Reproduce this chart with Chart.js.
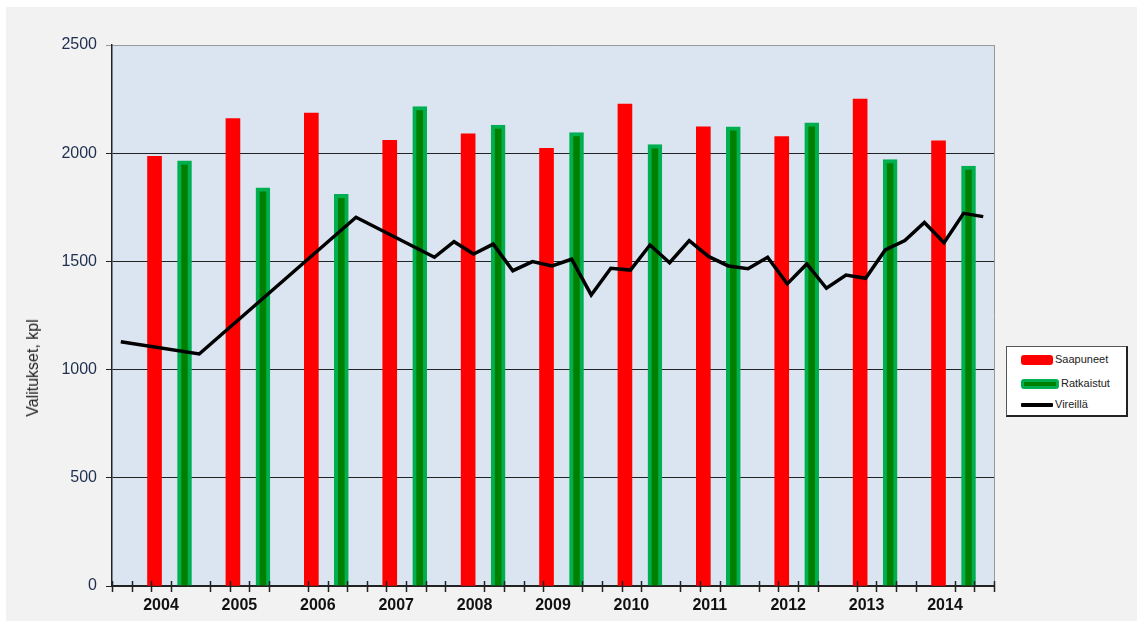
<!DOCTYPE html>
<html lang="fi">
<head>
  <meta charset="UTF-8">
  <title>Valitukset</title>
  <script src="https://cdn.jsdelivr.net/npm/chart.js"></script>
  <style>
    body { margin: 0; background: #ffffff; font-family: "Liberation Sans", Arial, sans-serif; }
    #panel { position: absolute; left: 6px; top: 7px; width: 1131px; height: 614px; background: #f2f2f2; }
    #chart { position: absolute; left: 0; top: 0; }
    #ytitle { position: absolute; left: 33px; top: 368px; transform: translate(-50%, -50%) rotate(-90deg);
              font-size: 16px; color: #222; white-space: nowrap; }
    #legend { position: absolute; left: 1006px; top: 346px; width: 119px; height: 68px; background: #fff;
              border: 1px solid #555; border-right: 2px solid #222; border-bottom: 2px solid #222; }
    .item { position: absolute; left: 14px; height: 14px; font-size: 11px; color: #222; line-height: 14px; }
    .sw { display: inline-block; width: 32px; vertical-align: middle; border-radius: 3px; margin-right: 2px; }
  </style>
</head>
<body>
  <div id="panel"></div>
  <canvas id="chart" width="1137" height="621"></canvas>
  <div id="ytitle">Valitukset, kpl</div>
  <div id="legend"></div>

  <script>
    // vuodet ja pylväät
    const years = ['2004', '2005', '2006', '2007', '2008', '2009', '2010', '2011', '2012', '2013', '2014'];
    const saapuneet = [1985, 2160, 2185, 2060, 2090, 2022, 2227, 2122, 2077, 2250, 2057];
    const ratkaistut = [1965, 1840, 1810, 2215, 2130, 2095, 2040, 2122, 2140, 1970, 1940];

    // vireillä (neljännesvuosittain, vuosineljännes akselin alusta)
    const vireillaQ = [0, 4, 12, 16, 17, 18, 19, 20, 21, 22, 23, 24, 25, 26, 27, 28, 29, 30,
                       31, 32, 33, 34, 35, 36, 37, 38, 39, 40, 41, 42, 43, 44];
    const vireilla = [1129, 1072, 1704, 1519, 1591, 1534, 1580, 1457, 1499, 1479, 1510, 1345,
                      1468, 1460, 1576, 1494, 1596, 1522, 1479, 1466, 1519, 1396, 1488, 1376,
                      1437, 1422, 1553, 1596, 1680, 1586, 1722, 1707];

    // akselin neljännesmerkit
    const quarterTicks = [0, 1, 2, 3, 5, 6, 7, 8, 10, 11, 12, 13, 14, 15, 16, 17, 19, 20, 21, 22,
                          24, 25, 26, 27, 29, 30, 31, 33, 34, 35, 36, 38, 39, 40, 41, 43, 44, 45];

    const font = "'Liberation Sans', Arial, sans-serif";

    const bgPlugin = {
      id: 'bg',
      beforeDraw(chart) {
        const { ctx, chartArea: a } = chart;
        ctx.save();
        ctx.fillStyle = '#dbe5f1';
        ctx.fillRect(a.left, a.top, a.right - a.left, a.bottom - a.top);
        ctx.restore();
      },
      afterDraw(chart) {
        const { ctx, chartArea: a } = chart;
        const x = chart.scales.x;
        ctx.save();
        ctx.strokeStyle = '#999';
        ctx.lineWidth = 1;
        ctx.beginPath();
        ctx.moveTo(a.right + 0.5, a.top);
        ctx.lineTo(a.right + 0.5, a.bottom);
        ctx.stroke();
        ctx.strokeStyle = '#222';
        ctx.lineWidth = 1.5;
        quarterTicks.forEach(q => {
          const px = Math.round(x.getPixelForValue(q)) + 0.5;
          ctx.beginPath();
          ctx.moveTo(px, a.bottom - 5);
          ctx.lineTo(px, a.bottom + 6);
          ctx.stroke();
        });
        ctx.restore();
      }
    };

    const chart = new Chart(document.getElementById('chart'), {
      type: 'bar',
      data: {
        datasets: [
          {
            label: 'Saapuneet',
            data: saapuneet.map((v, k) => ({ x: 4 * k + 2.17, y: v })),
            backgroundColor: '#ff0000',
            borderWidth: 0,
            barThickness: 14,
            grouped: false,
            order: 2
          },
          {
            label: 'Ratkaistut',
            data: ratkaistut.map((v, k) => ({ x: 4 * k + 3.7, y: v })),
            backgroundColor: '#008000',
            borderColor: '#00b050',
            borderWidth: 4,
            barThickness: 14,
            grouped: false,
            order: 1
          },
          {
            type: 'line',
            label: 'Vireillä',
            data: vireilla.map((v, i) => ({ x: vireillaQ[i] + 0.45, y: v })),
            borderColor: '#000000',
            borderWidth: 3.5,
            pointRadius: 0,
            tension: 0,
            order: 0
          }
        ]
      },
      options: {
        responsive: false,
        animation: false,
        layout: { padding: { top: 45, right: 143, left: 0, bottom: 0 } },
        plugins: { legend: { display: false }, tooltip: { enabled: false } },
        scales: {
          x: {
            type: 'linear',
            min: 0,
            max: 45,
            offset: false,
            afterBuildTicks: scale => {
              scale.ticks = years.map((y, k) => ({ value: 4 * k + 2.5 }));
            },
            afterFit: scale => { scale.height = 35; },
            grid: { display: false, drawTicks: false },
            border: { color: '#222', width: 1.5 },
            ticks: {
              autoSkip: false,
              maxRotation: 0,
              padding: 10,
              color: '#111',
              font: { family: font, size: 16, weight: 'bold' },
              callback: (v, i) => years[i]
            }
          },
          y: {
            min: 0,
            max: 2500,
            afterFit: scale => { scale.width = 112; },
            ticks: {
              stepSize: 500,
              padding: 9,
              color: '#1f2f4f',
              font: { family: font, size: 16 },
              callback: v => String(v)
            },
            grid: {
              color: ctx => ctx.tick && ctx.tick.value === 2500 ? '#999' : '#222',
              lineWidth: 1,
              tickLength: 6
            },
            border: { color: '#222', width: 1.5 }
          }
        }
      },
      plugins: [bgPlugin]
    });

    // selite
    const legend = document.getElementById('legend');
    const swatches = [
      'height: 10px; background: #ff0000;',
      'height: 4px; background: #008000; border: 3px solid #00b050;',
      'height: 4px; background: #000000; border-radius: 1px;'
    ];
    const rowTops = [5, 29, 50];
    chart.data.datasets.forEach((ds, i) => {
      const row = document.createElement('div');
      row.className = 'item';
      row.style.top = rowTops[i] + 'px';
      row.innerHTML = '<span class="sw" style="' + swatches[i] + '"></span>' + ds.label;
      legend.appendChild(row);
    });
  </script>
</body>
</html>
